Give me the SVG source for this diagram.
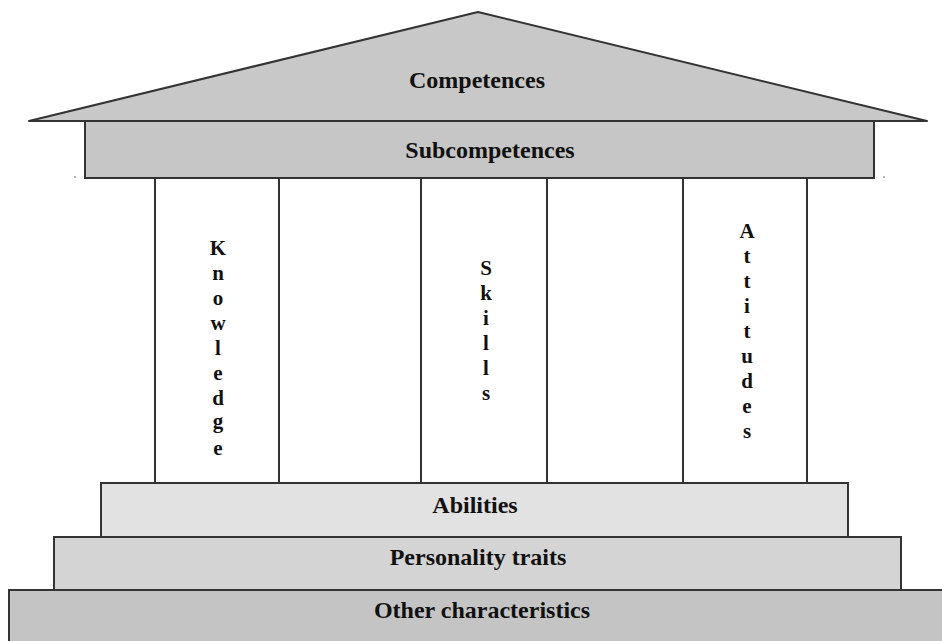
<svg xmlns="http://www.w3.org/2000/svg" width="942" height="641" viewBox="0 0 942 641">
  <style>
    .block { stroke: #333333; stroke-width: 2; }
    .label { font-family: "Liberation Serif", "Times New Roman", serif; font-weight: bold; font-size: 24px; fill: #111111; text-anchor: middle; }
    .vlabel { font-family: "Liberation Serif", "Times New Roman", serif; font-weight: bold; font-size: 21px; fill: #111111; text-anchor: middle; }
    .column { stroke: #333333; stroke-width: 2; fill: none; }
  </style>
  <rect x="0" y="0" width="942" height="641" fill="#ffffff"/>

  <!-- roof -->
  <g id="competences">
    <polygon class="block" points="478,12 29,121 927,121" fill="#c8c8c8" stroke-width="2.5" stroke-linejoin="round"/>
    <text class="label" x="477" y="88">Competences</text>
  </g>

  <g id="subcompetences">
    <rect class="block" x="85" y="121" width="789" height="57" fill="#c6c6c6"/>
    <text class="label" x="490" y="158">Subcompetences</text>
  </g>

  <!-- pillars -->
  <g id="connectors">
    <line class="column" x1="155" y1="178" x2="155" y2="483"/>
    <line class="column" x1="279" y1="178" x2="279" y2="483"/>
    <line class="column" x1="421" y1="178" x2="421" y2="483"/>
    <line class="column" x1="547" y1="178" x2="547" y2="483"/>
    <line class="column" x1="683" y1="178" x2="683" y2="483"/>
    <line class="column" x1="807" y1="178" x2="807" y2="483"/>
  </g>

  <g id="knowledge">
    <text class="vlabel" x="218" y="255">K</text>
    <text class="vlabel" x="218" y="280">n</text>
    <text class="vlabel" x="218" y="305">o</text>
    <text class="vlabel" x="218" y="330">w</text>
    <text class="vlabel" x="218" y="355">l</text>
    <text class="vlabel" x="218" y="380">e</text>
    <text class="vlabel" x="218" y="405">d</text>
    <text class="vlabel" x="218" y="428">g</text>
    <text class="vlabel" x="218" y="455">e</text>
  </g>

  <g id="skills">
    <text class="vlabel" x="486" y="275">S</text>
    <text class="vlabel" x="486" y="300">k</text>
    <text class="vlabel" x="486" y="325">i</text>
    <text class="vlabel" x="486" y="350">l</text>
    <text class="vlabel" x="486" y="375">l</text>
    <text class="vlabel" x="486" y="400">s</text>
  </g>

  <g id="attitudes">
    <text class="vlabel" x="747" y="238">A</text>
    <text class="vlabel" x="747" y="263">t</text>
    <text class="vlabel" x="747" y="288">t</text>
    <text class="vlabel" x="747" y="313">i</text>
    <text class="vlabel" x="747" y="338">t</text>
    <text class="vlabel" x="747" y="363">u</text>
    <text class="vlabel" x="747" y="388">d</text>
    <text class="vlabel" x="747" y="413">e</text>
    <text class="vlabel" x="747" y="438">s</text>
  </g>

  <!-- foundation steps -->
  <g id="abilities">
    <rect class="block" x="101" y="483" width="747" height="54" fill="#e2e2e2"/>
    <text class="label" x="475" y="513">Abilities</text>
  </g>

  <g id="personality-traits">
    <rect class="block" x="54" y="537" width="847" height="53" fill="#d4d4d4"/>
    <text class="label" x="478" y="565">Personality traits</text>
  </g>

  <g id="other-characteristics">
    <rect class="block" x="9" y="590" width="940" height="60" fill="#c4c4c4"/>
    <text class="label" x="482" y="618">Other characteristics</text>
  </g>

  <!-- small marks beside the beam -->
  <circle cx="75" cy="177" r="1" fill="#999999"/>
  <circle cx="884" cy="177" r="1" fill="#999999"/>
</svg>
